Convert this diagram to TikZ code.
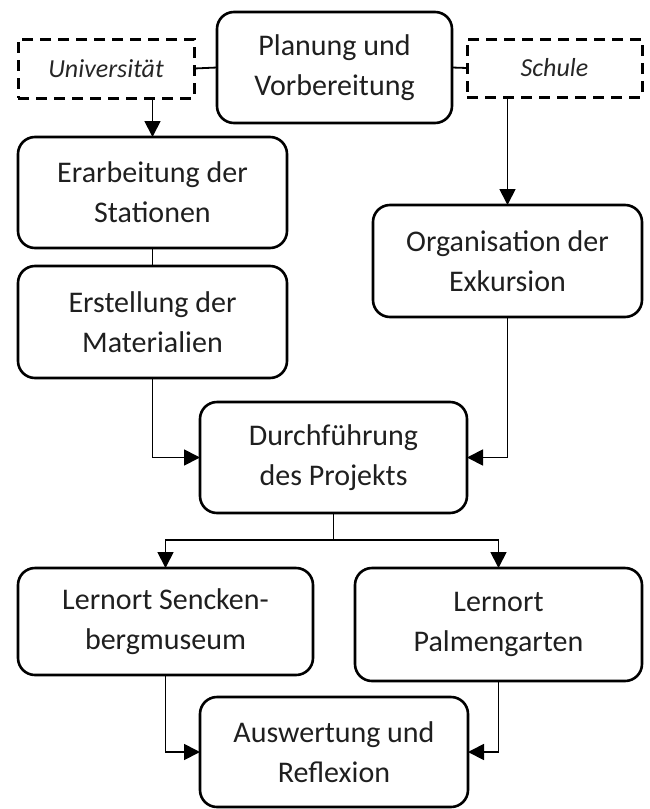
\documentclass[tikz,border=0pt]{standalone}
\usepackage{fontspec}
\setmainfont{Carlito}
\usetikzlibrary{arrows.meta}
\begin{document}
\begin{tikzpicture}[x=1pt,y=-1pt,
  box/.style={draw, line width=2.6pt, rounded corners=17pt, align=center,
    inner sep=0pt, outer sep=0pt, font=\fontsize{30}{40}\selectfont, text=black!88},
  dbox/.style={draw, line width=3pt, dash pattern=on 11pt off 7pt, align=center,
    inner sep=0pt, outer sep=0pt, font=\fontsize{26}{32}\selectfont\itshape, text=black!85},
  conn/.style={line width=1.8pt},
  arr/.style={conn, -{Triangle[length=16pt,width=16pt]}}]
\useasboundingbox (0,0) rectangle (649,809);
\node[box, minimum width=235pt, minimum height=111pt] (plan) at (334.5,67.5) {Planung und\\Vorbereitung};
\node[dbox, minimum width=176pt, minimum height=59pt] (uni) at (106,68.5) {Universität};
\node[dbox, minimum width=175pt, minimum height=58pt] (sch) at (554.5,68) {Schule};
\node[box, minimum width=269pt, minimum height=111pt] (erar) at (152.5,192.5) {Erarbeitung der\\Stationen};
\node[box, minimum width=269pt, minimum height=112pt] (erst) at (152.5,322) {Erstellung der\\Materialien};
\node[box, minimum width=269pt, minimum height=112pt] (org) at (507.5,261) {Organisation der\\Exkursion};
\node[box, minimum width=267pt, minimum height=111pt] (durch) at (333.5,457.5) {Durchführung\\des Projekts};
\node[box, minimum width=295pt, minimum height=107pt] (senck) at (165.5,621.5) {Lernort Sencken-\\bergmuseum};
\node[box, minimum width=287pt, minimum height=113pt] (palm) at (498.5,624.5) {Lernort\\Palmengarten};
\node[box, minimum width=268pt, minimum height=110pt] (ausw) at (334,752) {Auswertung und\\Reflexion};
\draw[conn] (uni.east) -- (plan.west);
\draw[conn] (plan.east) -- (sch.west);
\draw[arr] (uni.south -| erar.north) -- (erar.north);
\draw[conn] (erar.south) -- (erst.north);
\draw[arr] (sch.south -| org.north) -- (org.north);
\draw[arr] (erst.south) |- (durch.west);
\draw[arr] (org.south) |- (durch.east);
\draw[conn] (durch.south) -- ++(0,27) coordinate (sp);
\draw[arr] (sp) -| (senck.north);
\draw[arr] (sp) -| (palm.north);
\draw[arr] (senck.south) |- (ausw.west);
\draw[arr] (palm.south) |- (ausw.east);
\end{tikzpicture}
\end{document}
